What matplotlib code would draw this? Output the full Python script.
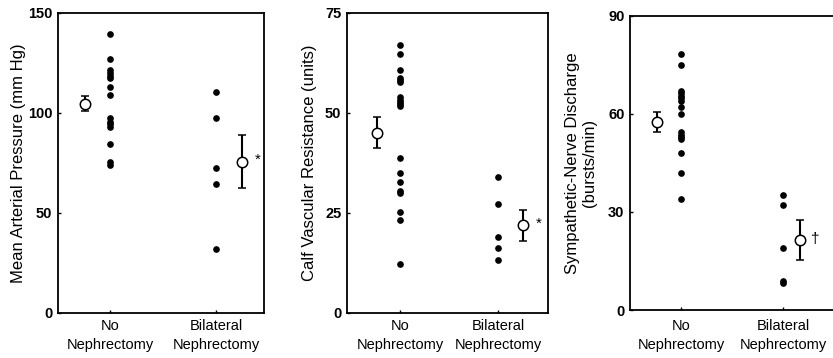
import matplotlib
matplotlib.use("Agg")
import matplotlib.pyplot as plt

plt.rcParams['font.family'] = ['Liberation Sans', 'DejaVu Sans']

# Group labels
groups = ["No\nNephrectomy", "Bilateral\nNephrectomy"]

# Mean arterial pressure (mm Hg)
map_no = [139.5, 127, 121.4, 120, 118.6, 117.2, 113, 109, 97.2, 95.5, 94.2, 93, 84.6, 75.3, 74]
map_bil = [110.2, 97.2, 72.4, 64.5, 32]
map_mean = [104.5, 75.6]
map_sem = [3.7, 13.3]

# Calf vascular resistance (units)
cvr_no = [66.9, 64.8, 60.8, 58.8, 58.1, 57.6, 54, 53.3, 52.7, 52.1, 51.6,
          38.8, 34.9, 32.8, 30.4, 29.9, 25.1, 23.1, 12.2]
cvr_bil = [33.9, 27.1, 19.0, 16.1, 13.2]
cvr_mean = [45.0, 21.8]
cvr_sem = [3.9, 3.9]

# Sympathetic-nerve discharge (bursts/min)
snd_no = [78.1, 75.0, 67.0, 66.2, 65.5, 64.8, 64.0, 62.0, 59.9, 54.3, 53.6,
          52.9, 52.2, 47.9, 42.0, 34.0]
snd_bil = [35.2, 32.1, 19.1, 9.0, 8.1]
snd_mean = [57.4, 21.3]
snd_sem = [3.0, 6.1]

# Significance marks next to the nephrectomy means
marks = ["*", "*", "\u2020"]

ylabels = ["Mean Arterial Pressure (mm Hg)",
           "Calf Vascular Resistance (units)",
           "Sympathetic-Nerve Discharge\n(bursts/min)"]
yticks = [[0, 50, 100, 150], [0, 25, 50, 75], [0, 30, 60, 90]]

panels = [
    (map_no, map_bil, map_mean, map_sem),
    (cvr_no, cvr_bil, cvr_mean, cvr_sem),
    (snd_no, snd_bil, snd_mean, snd_sem),
]

# Layout: axes rectangles (figure fraction), x-limits, mean-marker offsets
rects = [
    [58 / 833, 45.5 / 358, 206 / 833, 299.5 / 358],
    [347 / 833, 45.5 / 358, 201 / 833, 299.5 / 358],
    [630 / 833, 48 / 358, 205 / 833, 294.5 / 358],
]
xlims = [(0.509, 2.453), (0.462, 2.503), (0.5, 2.51)]
mean_offsets = [(-0.236, 0.245), (-0.233, 0.249), (-0.235, 0.167)]
ylabel_x = [-0.194, -0.189, -0.239]
xlabel_pad = [5, 5, 6.5]

fig = plt.figure(figsize=(8.33, 3.58), dpi=100)

for i, (no, bil, mean, sem) in enumerate(panels):
    ax = fig.add_axes(rects[i])
    ax.plot([1] * len(no), no, 'o', color='black', ms=3.8, mec='black')
    ax.plot([2] * len(bil), bil, 'o', color='black', ms=3.8, mec='black')
    offs = mean_offsets[i]
    xs = [1 + offs[0], 2 + offs[1]]
    ax.errorbar(xs, mean, yerr=sem, fmt='o', color='black', ecolor='black',
                elinewidth=1.5, capsize=3, capthick=1.5, ms=7.5,
                mfc='white', mec='black', mew=1.1, zorder=3)
    ax.annotate(marks[i], (xs[1], mean[1]), xytext=(11, 1),
                textcoords='offset points', ha='center', va='center',
                fontsize=11)
    ax.set_xlim(*xlims[i])
    ax.set_ylim(yticks[i][0], yticks[i][-1])
    ax.set_yticks(yticks[i])
    ax.set_yticklabels([str(t) for t in yticks[i]], fontweight='bold')
    ax.set_xticks([1, 2])
    ax.set_xticklabels(groups, linespacing=1.45)
    ax.tick_params(axis='x', direction='in', length=2.5, width=1,
                   pad=xlabel_pad[i], labelsize=10.5)
    ax.tick_params(axis='y', direction='in', length=2, width=1, pad=4,
                   labelsize=10.5)
    for s in ax.spines.values():
        s.set_linewidth(1.3)
    ax.text(ylabel_x[i], 0.5, ylabels[i], transform=ax.transAxes,
            rotation=90, ha='center', va='center', fontsize=12,
            linespacing=1.15)

fig.savefig("out.png", dpi=100)
